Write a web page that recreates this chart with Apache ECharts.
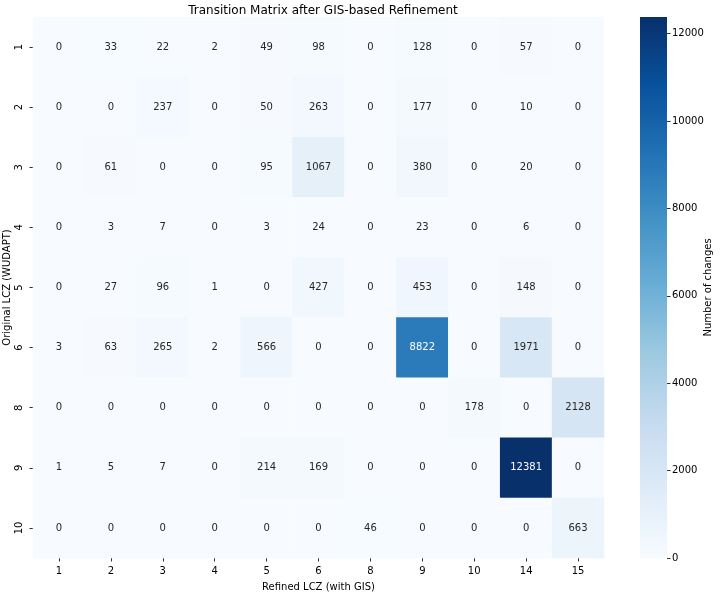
<!DOCTYPE html>
<html>
<head>
<meta charset="utf-8">
<script src="https://cdn.jsdelivr.net/npm/echarts@6/dist/echarts.min.js"></script>
<style>
  html, body { margin: 0; padding: 0; background: #fff; }
  #chart { width: 722px; height: 592px; }
</style>
</head>
<body>
<div id="chart"></div>
<script>
// refined LCZ (columns) and original LCZ (rows)
const refinedLcz = ["1", "2", "3", "4", "5", "6", "8", "9", "10", "14", "15"];
const originalLcz = ["1", "2", "3", "4", "5", "6", "8", "9", "10"];

// one row of counts per original class
const row1 = [0, 33, 22, 2, 49, 98, 0, 128, 0, 57, 0];
const row2 = [0, 0, 237, 0, 50, 263, 0, 177, 0, 10, 0];
const row3 = [0, 61, 0, 0, 95, 1067, 0, 380, 0, 20, 0];
const row4 = [0, 3, 7, 0, 3, 24, 0, 23, 0, 6, 0];
const row5 = [0, 27, 96, 1, 0, 427, 0, 453, 0, 148, 0];
const row6 = [3, 63, 265, 2, 566, 0, 0, 8822, 0, 1971, 0];
const row8 = [0, 0, 0, 0, 0, 0, 0, 0, 178, 0, 2128];
const row9 = [1, 5, 7, 0, 214, 169, 0, 0, 0, 12381, 0];
const row10 = [0, 0, 0, 0, 0, 0, 46, 0, 0, 0, 663];
const rows = [row1, row2, row3, row4, row5, row6, row8, row9, row10];

const colorbarTicks = [0, 2000, 4000, 6000, 8000, 10000, 12000];

// matplotlib "Blues"
const blues = ["#f7fbff", "#deebf7", "#c6dbef", "#9ecae1", "#6baed6",
	"#4292c6", "#2171b5", "#08519c", "#08306b"];

const font = "DejaVu Sans";
const maxVal = Math.max(...rows.map((r) => Math.max(...r)));

const data = [];
rows.forEach((r, i) => {
	r.forEach((v, j) => {
		data.push({
			value: [j, i, v],
			label: { color: v > maxVal * 0.45 ? "#ffffff" : "#262626" },
		});
	});
});

// colorbar gradient, bottom (0) to top (max)
const barGradient = new echarts.graphic.LinearGradient(
	0, 1, 0, 0,
	blues.map((c, i) => ({ offset: i / (blues.length - 1), color: c })),
);

const tick = { show: true, length: 3.5, lineStyle: { color: "#333" } };
const labelStyle = { fontFamily: font, fontSize: 10, color: "#000" };

const chart = echarts.init(document.getElementById("chart"));
chart.setOption({
	animation: false,
	textStyle: { fontFamily: font },
	title: {
		text: "Transition Matrix after GIS-based Refinement",
		left: 318,
		textAlign: "center",
		top: 0,
		textStyle: { fontFamily: font, fontSize: 12, fontWeight: "normal", color: "#000" },
	},
	grid: [
		{ left: 33, right: 118, top: 17, bottom: 34, outerBoundsMode: "none" },
		{ left: 640, width: 27, top: 17, height: 541, outerBoundsMode: "none" },
	],
	xAxis: [
		{
			type: "category",
			data: refinedLcz,
			gridIndex: 0,
			name: "Refined LCZ (with GIS)",
			nameLocation: "middle",
			nameGap: 24,
			nameMoveOverlap: false,
			nameTextStyle: labelStyle,
			axisLine: { show: false },
			axisTick: { ...tick, alignWithLabel: true },
			axisLabel: { ...labelStyle, margin: 8 },
			splitLine: { show: false },
		},
		{
			type: "category",
			data: ["c"],
			gridIndex: 1,
			show: false,
		},
	],
	yAxis: [
		{
			type: "category",
			data: originalLcz,
			gridIndex: 0,
			inverse: true,
			name: "Original LCZ (WUDAPT)",
			nameLocation: "middle",
			nameGap: 21,
			nameMoveOverlap: false,
			nameRotate: 90,
			nameTextStyle: labelStyle,
			axisLine: { show: false },
			axisTick: { ...tick, alignWithLabel: true },
			axisLabel: { ...labelStyle, rotate: 90, margin: 9 },
			splitLine: { show: false },
		},
		{
			type: "value",
			gridIndex: 1,
			position: "right",
			min: 0,
			max: maxVal,
			interval: 2000,
			name: "Number of changes",
			nameLocation: "middle",
			nameGap: 36,
			nameMoveOverlap: false,
			nameRotate: 90,
			nameTextStyle: labelStyle,
			axisLine: { show: false },
			axisTick: tick,
			axisLabel: {
				...labelStyle,
				margin: 5,
				showMaxLabel: false,
				formatter: (v) => (colorbarTicks.includes(v) ? String(v) : ""),
			},
			splitLine: { show: false },
		},
	],
	visualMap: {
		type: "continuous",
		show: false,
		seriesIndex: 0,
		min: 0,
		max: maxVal,
		inRange: { color: blues },
	},
	series: [
		{
			type: "heatmap",
			xAxisIndex: 0,
			yAxisIndex: 0,
			data,
			label: {
				show: true,
				fontFamily: font,
				fontSize: 10,
				formatter: (p) => String(p.value[2]),
			},
		},
		{
			type: "bar",
			xAxisIndex: 1,
			yAxisIndex: 1,
			data: [maxVal],
			barWidth: "100%",
			silent: true,
			itemStyle: { color: barGradient, borderRadius: 0 },
		},
	],
});
</script>
</body>
</html>
